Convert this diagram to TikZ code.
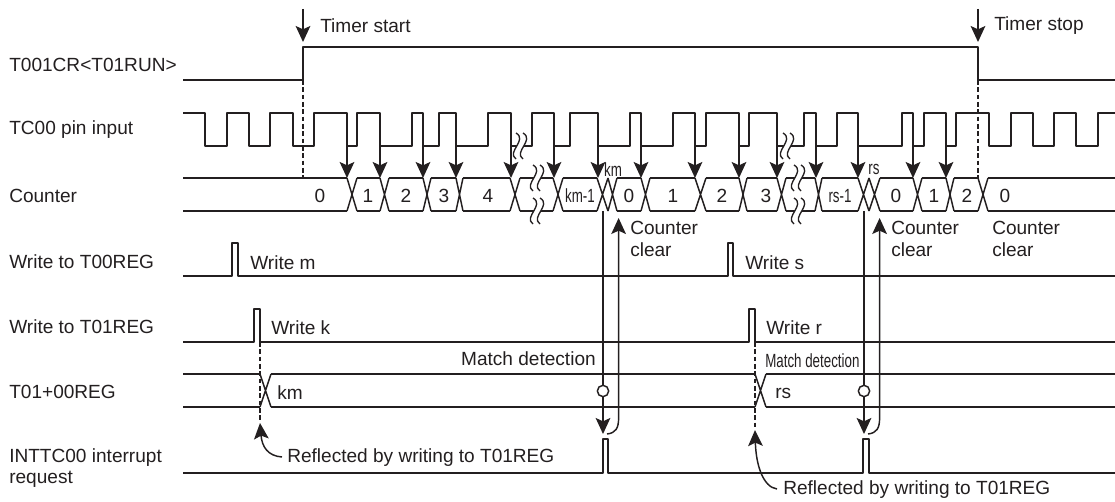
\documentclass[tikz,border=0pt]{standalone}
\usepackage{fontspec}
\setmainfont{Liberation Sans}
\usetikzlibrary{arrows.meta}
\definecolor{wire}{HTML}{231F20}
\newcommand{\narrowtext}[1]{\scalebox{.7}[1]{#1}}
\newcommand{\wavebreak}[2]{%
  \begin{scope}[shift={(#1,#2)}]
    \fill[white] (-4,-13) .. controls (8,-6) and (-14,6) .. (-4,13) -- (3,13)
                 .. controls (-7,6) and (15,-6) .. (3,-13) -- cycle;
    \draw[breakline] (-4,-13) .. controls (8,-6) and (-14,6) .. (-4,13);
    \draw[breakline] (3,-13) .. controls (15,-6) and (-7,6) .. (3,13);
  \end{scope}}
\tikzset{
  signal/.style={line width=1.1pt, draw=wire, line join=round},
  breakline/.style={line width=1pt, draw=wire},
  guide/.style={line width=1pt, draw=wire, dash pattern=on 3.5pt off 2pt},
  event/.style={-{Stealth[length=12pt, width=11pt, inset=2.5pt]}, line width=1.1pt, draw=wire},
  clearflow/.style={{Stealth[length=12pt, width=11pt, inset=2.5pt]}-, line width=1.1pt, draw=wire},
  rowlabel/.style={anchor=west, inner sep=0pt, align=left, text=wire,
                   font=\fontsize{14.3}{16}\selectfont},
  note/.style={rowlabel},
  value/.style={inner sep=0pt, text=wire, font=\fontsize{14.3}{16}\selectfont},
  matchdot/.style={circle, draw=wire, fill=white, line width=1.1pt, inner sep=0pt, minimum size=8.5pt}
}
\begin{document}
\begin{tikzpicture}[x=.75pt, y=-.75pt]
\useasboundingbox (0,0) rectangle (1115,502);
% row names
\node[rowlabel] (runname) at (9,65) {T001CR<T01RUN>};
\node[rowlabel] (pinname) at (9,130) {TC00 pin input};
\node[rowlabel] (countname) at (9,196) {Counter};
\node[rowlabel] (wr00name) at (9,262) {Write to T00REG};
\node[rowlabel] (wr01name) at (9,327) {Write to T01REG};
\node[rowlabel] (regname) at (9,392) {T01+00REG};
\node[rowlabel] (intname) at (9,468) {INTTC00 interrupt\\request};
% run bit and pin clock
\draw[signal] (183,80) -- (303,80) -- (303,47) -- (978,47) -- (978,80) -- (1115,80);
\draw[signal] (183,113) -| (205,146) -| (227,113) -| (249,146) -| (270,113) -| (293,146) -| (314,113)
  -| (347,146) -| (357,113) -| (380,146) -| (412,113) -| (423,146) -| (439,113) -| (456,146)
  -| (488,113) -| (511,146) -| (532,113) -| (554,146) -| (570,113) -| (598,146) -| (630,113)
  -| (641,146) -| (673,113) -| (695,146) -| (706,113) -| (739,146) -| (749,113) -| (777,146)
  -| (804,113) -| (816,146) -| (837,113) -| (858,146) -| (902,113) -| (913,146) -| (924,113)
  -| (946,146) -| (956,113) -| (989,146) -| (1011,113) -| (1033,146) -| (1054,113) -| (1076,146)
  -| (1098,113) -- (1115,113);
% counter bus
\foreach \a/\b in {183/347,357/380,389/423,431/456,463/510,520/553,563/597,617/641,650/695,706/739,747/777,786/815,822/858,880/913,922/946,954/978,988/1115}
  \draw[signal] (\a,178) -- (\b,178) (\a,211) -- (\b,211);
\foreach \a/\b in {347/357,380/389,423/431,456/463,510/520,553/563,597/608,608/617,641/650,695/706,739/747,777/786,815/822,858/869,869/880,913/922,946/954,978/988}
  \draw[signal] (\a,178) -- (\b,211) (\a,211) -- (\b,178);
\foreach \x/\t in {320/0,368/1,406/2,444/3,488/4,629/0,673/1,722/2,766/3,896/0,934/1,967/2,1005/0}
  \node[value] (count\x) at (\x,196) {\t};
\node[value] (countkm) at (580,196) {\narrowtext{km-1}};
\node[value] (countrs) at (840,196) {\narrowtext{rs-1}};
\node[value] (markkm) at (613,170) {\narrowtext{km}};
\node[value] (markrs) at (874,169) {\narrowtext{rs}};
% counting edges
\foreach \x in {347,380,423,456,511,554,598,641,695,739,777,816,858,913,946}
  \draw[event] (\x,146) -- (\x,178);
% breaks in the time axis
\wavebreak{520}{146}
\wavebreak{787}{146}
\wavebreak{537}{178}
\wavebreak{537}{211}
\wavebreak{798}{178}
\wavebreak{798}{211}
% timer start and stop
\coordinate (starttop) at (303,9);
\coordinate (starttip) at (303,42);
\coordinate (stoptop) at (978,9);
\coordinate (stoptip) at (978,42);
\draw[event] (starttop) -- (starttip);
\draw[event] (stoptop) -- (stoptip);
\node[note] (starttext) at (320,26) {Timer start};
\node[note] (stoptext) at (994,26) {Timer stop};
\draw[guide] (303,80) -- (303,178);
\draw[guide] (978,80) -- (978,178);
% write strobes
\draw[signal] (183,276) -- (232,276) -- (232,243) -- (238,243) -- (238,276) -- (728,276) -- (728,243) -- (733,243) -- (733,276) -- (1115,276);
\draw[signal] (183,342) -- (254,342) -- (254,309) -- (260,309) -- (260,342) -- (749,342) -- (749,309) -- (755,309) -- (755,342) -- (1115,342);
\node[note] (writem) at (250,263) {Write m};
\node[note] (writes) at (745,263) {Write s};
\node[note] (writek) at (271,328) {Write k};
\node[note] (writer) at (766,328) {Write r};
% compare register
\foreach \a/\b in {183/260,271/755,766/1115}
  \draw[signal] (\a,374) -- (\b,374) (\a,407) -- (\b,407);
\foreach \a/\b in {260/271,755/766}
  \draw[signal] (\a,374) -- (\b,407) (\a,407) -- (\b,374);
\node[note] (regkm) at (277,393) {km};
\node[note] (regrs) at (775,393) {rs};
\node[note, anchor=east] (matchone) at (596,359) {Match detection};
\node[value, anchor=west] (matchtwo) at (765,361) {\narrowtext{Match detection}};
% interrupt request
\draw[signal] (183,473) -- (603,473) -- (603,439) -- (608,439) -- (608,473) -- (863,473) -- (863,439) -- (869,439) -- (869,473) -- (1115,473);
\node[rowlabel] (reflectone) at (287,458) {Reflected by writing to T01REG};
\node[rowlabel] (reflecttwo) at (783,490) {Reflected by writing to T01REG};
\draw[guide] (260,342) -- (260,421);
\draw[guide] (755,342) -- (755,428);
\draw[event] (reflectone.west) ++(-5,-1) .. controls (268,456) and (262,447) .. (260,423);
\draw[event] (reflecttwo.west) ++(-6,-1) .. controls (763,487) and (756,465) .. (755,430);
% match and clear
\coordinate (downone) at (603,211);
\coordinate (downtwo) at (864,211);
\coordinate (pulseone) at (603,434);
\coordinate (pulsetwo) at (864,434);
\draw[event] (downone) -- (pulseone);
\draw[event] (downtwo) -- (pulsetwo);
\node[matchdot] (dotone) at (603,391) {};
\node[matchdot] (dottwo) at (864,391) {};
\coordinate (clearone) at (618.6,218);
\coordinate (cleartwo) at (879.6,218);
\draw[clearflow] (clearone) -- (618.6,418) .. controls (618.6,428) and (616,433) .. (607,434);
\draw[clearflow] (cleartwo) -- (879.6,418) .. controls (879.6,428) and (877,433) .. (868,434);
\node[note] (clearaone) at (630,239) {Counter\\clear};
\node[note] (clearatwo) at (891,239) {Counter\\clear};
\node[note] (clearathree) at (992,239) {Counter\\clear};
\end{tikzpicture}
\end{document}
